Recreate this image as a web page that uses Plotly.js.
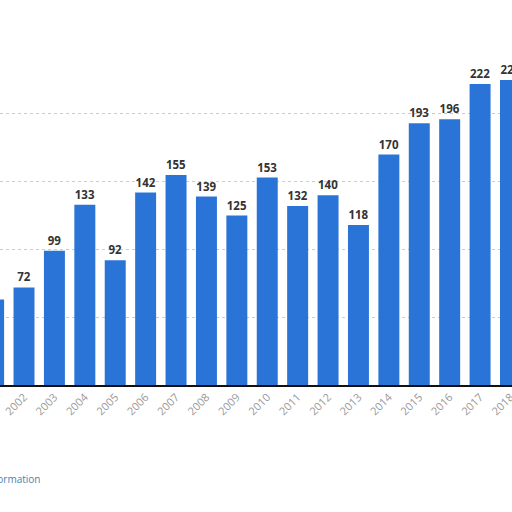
<!DOCTYPE html>
<html>
<head>
<meta charset="utf-8">
<script src="https://cdn.plot.ly/plotly-3.0.1.min.js"></script>
<style>
  html, body { margin: 0; padding: 0; background: #fff; }
  #chart { width: 512px; height: 512px; }
</style>
</head>
<body>
<div id="chart"></div>
<script>
// years shown (2001 and 2018 are cut off at the edges)
const years = ['2001', '2002', '2003', '2004', '2005', '2006', '2007', '2008', '2009',
  '2010', '2011', '2012', '2013', '2014', '2015', '2016', '2017', '2018'];
// values; 2007 and 2010 have no visible label
const values = [63, 72, 99, 133, 92, 142, 155, 139, 125, 153, 132, 140, 118, 170, 193, 196, 222, 225];
// gridlines seen in the picture
const gridVals = [50, 100, 150, 200];

const barColor = '#2a74d8';

const trace = {
  type: 'bar',
  x: years,
  y: values,
  marker: { color: barColor },
  text: values.map(String),
  textposition: 'outside',
  cliponaxis: false,
  textfont: { family: 'Open Sans, sans-serif', size: 11.5, color: '#333' },
  texttemplate: '<b>%{text}</b>',
  hoverinfo: 'x+y'
};

const layout = {
  width: 512,
  height: 512,
  margin: { l: 0, r: 0, t: 0, b: 127, pad: 0 },
  paper_bgcolor: '#fff',
  plot_bgcolor: '#fff',
  bargap: 0.31,
  showlegend: false,
  xaxis: {
    type: 'category',
    range: [0.21, 17.05],
    showline: true,
    linecolor: '#111',
    linewidth: 1.5,
    ticks: '',
    tickangle: -45,
    tickfont: { family: 'Open Sans, sans-serif', size: 11, color: '#999' },
    showgrid: false,
    zeroline: false
  },
  yaxis: {
    range: [0, 284],
    showticklabels: false,
    showgrid: true,
    gridcolor: '#ccc',
    griddash: 'dot',
    gridwidth: 1,
    tickmode: 'array',
    tickvals: gridVals,
    zeroline: false
  },
  annotations: [{
    text: 'Additional Information',
    xref: 'paper', yref: 'paper',
    x: 42 / 512, y: -94 / 385,
    xanchor: 'right', yanchor: 'middle',
    showarrow: false,
    font: { family: 'Open Sans, sans-serif', size: 10, color: '#4a7fb0' }
  }]
};

Plotly.newPlot('chart', [trace], layout, { displayModeBar: false, staticPlot: true });
</script>
</body>
</html>
